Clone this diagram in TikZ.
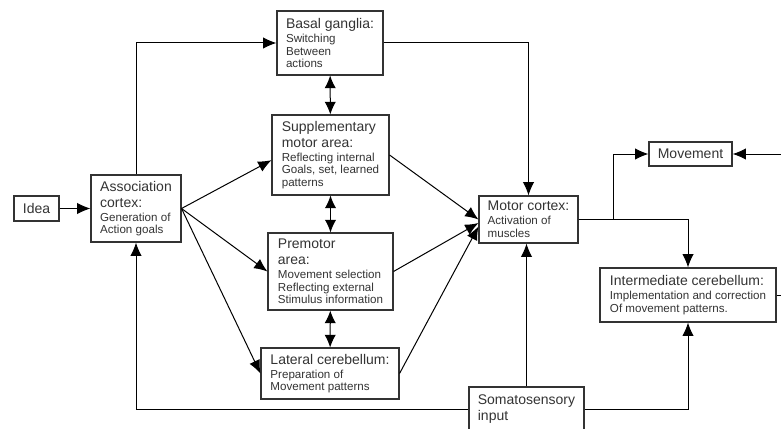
\documentclass[tikz,border=0pt]{standalone}
\usepackage{fontspec}
\setmainfont{Liberation Sans}
\usetikzlibrary{arrows.meta}

\newcommand{\sml}{\fontsize{8.7}{10}\selectfont}

\begin{document}
\begin{tikzpicture}
    [ x=0.75pt, y=-0.75pt
    , box/.style={draw=black!80, line width=0.8pt, text=black!80, align=left,
        inner sep=2pt, font=\fontsize{10.5}{12}\selectfont}
    , arr/.style={line width=0.75pt, -{Latex[length=10pt,width=8.5pt]}}
    , darr/.style={line width=0.75pt, {Latex[length=9.5pt,width=8.5pt]}-{Latex[length=9.5pt,width=8.5pt]}}
    ]
  \clip (0,0) rectangle (781,428);

  % boxes
  \node[box, minimum width=33.75pt, minimum height=18.75pt] (idea) at (36.5,208.5) {Idea};
  \node[box, minimum width=67.5pt, minimum height=50.25pt] (assoc) at (136,208.5)
    {Association\\cortex:\\[-1.5pt]\sml Generation of\\[-2.5pt]\sml Action goals};
  \node[box, minimum width=79.5pt, minimum height=48pt] (basal) at (330,43)
    {Basal ganglia:\\[-1.5pt]\sml Switching\\[-2.5pt]\sml Between\\[-2.5pt]\sml actions};
  \node[box, minimum width=87.75pt, minimum height=60pt] (supp) at (330.5,155)
    {Supplementary\\motor area:\\[-1.5pt]\sml Reflecting internal\\[-2.5pt]\sml Goals, set, learned\\[-2.5pt]\sml patterns};
  \node[box, minimum width=93.75pt, minimum height=57.75pt] (premotor) at (330.5,271.5)
    {Premotor\\area:\\[-1.5pt]\sml Movement selection\\[-2.5pt]\sml Reflecting external\\[-2.5pt]\sml Stimulus information};
  \node[box, minimum width=103.5pt, minimum height=38.25pt] (lateral) at (330,373.5)
    {Lateral cerebellum:\\[-1.5pt]\sml Preparation of\\[-2.5pt]\sml Movement patterns};
  \node[box, minimum width=74.25pt, minimum height=35.25pt] (motor) at (528.5,219.5)
    {Motor cortex:\\[-1.5pt]\sml Activation of\\[-2.5pt]\sml muscles};
  \node[box, minimum width=62.25pt, minimum height=18pt] (movement) at (690.5,154) {Movement};
  \node[box, minimum width=132pt, minimum height=40.5pt] (intermed) at (688,295)
    {Intermediate cerebellum:\\[-1.5pt]\sml Implementation and correction\\[-2.5pt]\sml Of movement patterns.};
  \node[box, minimum width=86.25pt, minimum height=33pt] (soma) at (526.5,409)
    {Somatosensory\\input};

  % connectors
  \draw[arr] (idea) -- (assoc);
  \draw[arr] (assoc.north) |- (basal.west);
  \draw[arr] (basal.east) -| (motor.north);
  \draw[darr] (basal) -- (supp);
  \draw[darr] (supp) -- (premotor);
  \draw[darr] (premotor) -- (lateral);
  \draw[arr] (assoc.east) -- (supp.185);
  \draw[arr] (assoc.east) -- (premotor.west);
  \draw[arr] (assoc.east) -- (lateral.west);
  \draw[arr] (supp.east) -- (motor.west);
  \draw[arr] (premotor.east) -- (motor.184);
  \draw[arr] (lateral.east) -- (motor.188);
  \draw[arr] (motor.east) -- ++(35,0) |- (movement.west);
  \draw[arr] (motor.east) -| (intermed.north);
  \draw[arr] (soma.north) -- (soma.north |- motor.south);
  \draw[arr] (soma.west) -| (assoc.south);
  \draw[arr] (soma.east) -| (intermed.south);
  \draw[arr] (intermed.east) -- ++(20,0) |- (movement.east);
\end{tikzpicture}
\end{document}
